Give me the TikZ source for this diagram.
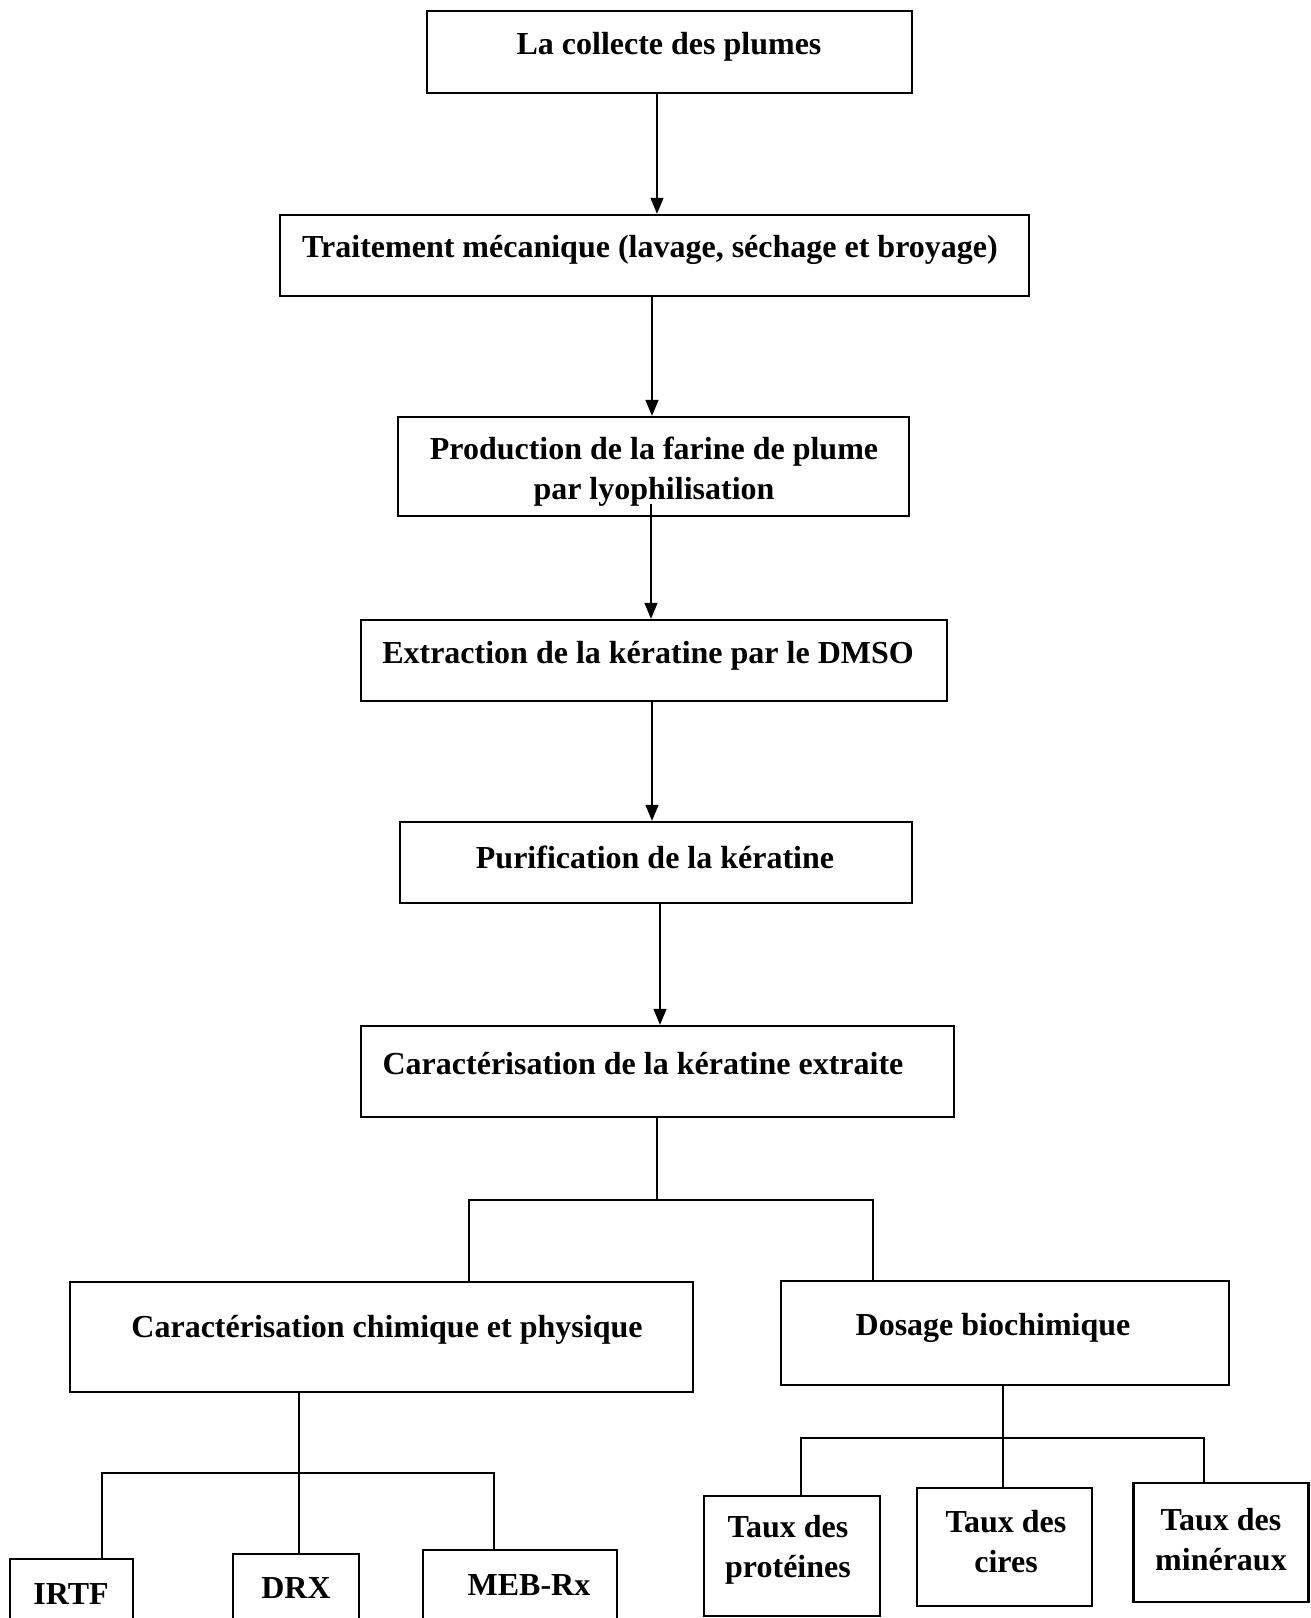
\documentclass[tikz,border=0pt]{standalone}
\usepackage{fontspec}
\setmainfont{Liberation Serif}
\usetikzlibrary{arrows.meta}
\begin{document}
\begin{tikzpicture}[x=1pt,y=-1pt,
  box/.style={draw=black,line width=2.4pt,inner sep=0pt,fill=none},
  txt/.style={font=\bfseries\fontsize{32}{40}\selectfont,align=center,inner sep=0pt},
  arr/.style={draw=black,line width=1.3pt,-{Triangle[width=13pt,length=16pt]}},
  ln/.style={draw=black,line width=1.3pt}]
\useasboundingbox (0,0) rectangle (1311,1618);
% boxes
\node[box,minimum width=485pt,minimum height=82pt] (b1) at (669.5,52) {};
\node[box,minimum width=749pt,minimum height=81pt] (b2) at (654.5,255.5) {};
\node[box,minimum width=511pt,minimum height=99pt] (b3) at (653.5,466.5) {};
\node[box,minimum width=586pt,minimum height=81pt] (b4) at (654,660.5) {};
\node[box,minimum width=512pt,minimum height=81pt] (b5) at (656,862.5) {};
\node[box,minimum width=593pt,minimum height=91pt] (b6) at (657.5,1071.5) {};
\node[box,minimum width=623pt,minimum height=110pt] (b7) at (381.5,1337) {};
\node[box,minimum width=448pt,minimum height=104pt] (b8) at (1005,1333) {};
\node[box,minimum width=123pt,minimum height=120pt] (b9) at (71.5,1619) {};
\node[box,minimum width=126pt,minimum height=120pt] (b10) at (296,1614) {};
\node[box,minimum width=194pt,minimum height=120pt] (b11) at (520,1610) {};
\node[box,minimum width=176pt,minimum height=120pt] (b12) at (792,1556) {};
\node[box,minimum width=175pt,minimum height=118pt] (b13) at (1004.5,1547) {};
\node[box,minimum width=175pt,minimum height=119pt] (b14) at (1221,1542.5) {};
% texts
\node[txt] (t1) at (669,47) {La collecte des plumes};
\node[txt] (t2) at (650,250) {Traitement mécanique (lavage, séchage et broyage)};
\node[txt] (t3) at (654,472) {Production de la farine de plume\\par lyophilisation};
\node[txt] (t4) at (648,656) {Extraction de la kératine par le DMSO};
\node[txt] (t5) at (655,857) {Purification de la kératine};
\node[txt] (t6) at (643,1064) {Caractérisation de la kératine extraite};
\node[txt] (t7) at (387,1330) {Caractérisation chimique et physique};
\node[txt] (t8) at (993,1328) {Dosage biochimique};
\node[txt] (t9) at (71,1594) {IRTF};
\node[txt] (t10) at (296,1588) {DRX};
\node[txt] (t11) at (529,1585) {MEB-Rx};
\node[txt] (t12) at (788,1550) {Taux des\\protéines};
\node[txt] (t13) at (1006,1542) {Taux des\\cires};
\node[txt] (t14) at (1221,1540) {Taux des\\minéraux};
% arrow columns
\coordinate (x1) at (657,0);
\coordinate (x2) at (652,0);
\coordinate (x3) at (651,0);
\coordinate (x4) at (652,0);
\coordinate (x5) at (660,0);
\draw[arr] (b1.south -| x1) -- (b2.north -| x1);
\draw[arr] (b2.south -| x2) -- (b3.north -| x2);
\draw[arr] ([yshift=13pt]b3.south -| x3) -- (b4.north -| x3);
\draw[arr] (b4.south -| x4) -- (b5.north -| x4);
\draw[arr] (b5.south -| x5) -- (b6.north -| x5);
% tree 1
\coordinate (j1) at (657,1200);
\coordinate (j1l) at (469,1200);
\coordinate (j1r) at (873,1200);
\draw[ln] (b6.south -| j1) -- (j1);
\draw[ln] (b7.north -| j1l) -- (j1l) -- (j1r) -- (b8.north -| j1r);
% tree 2
\coordinate (j2) at (299,1473);
\coordinate (j2l) at (102,1473);
\coordinate (j2r) at (494,1473);
\draw[ln] (b7.south -| j2) -- (b10.north -| j2);
\draw[ln] (b9.north -| j2l) -- (j2l) -- (j2r) -- (b11.north -| j2r);
% tree 3
\coordinate (j3) at (1003,1438);
\coordinate (j3l) at (801,1438);
\coordinate (j3r) at (1204,1438);
\draw[ln] (b8.south -| j3) -- (b13.north -| j3);
\draw[ln] (b12.north -| j3l) -- (j3l) -- (j3r) -- (b14.north -| j3r);
\end{tikzpicture}
\end{document}
